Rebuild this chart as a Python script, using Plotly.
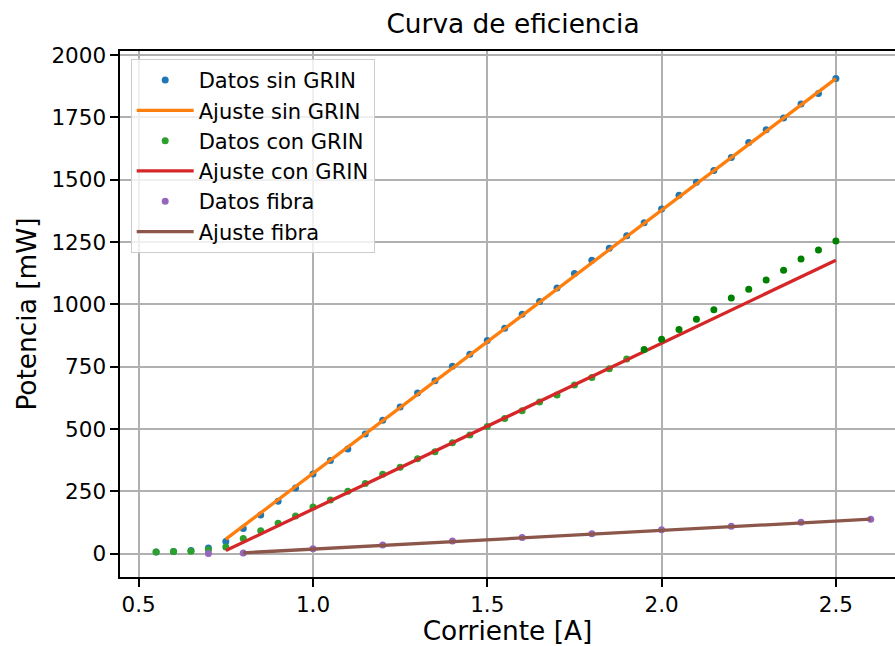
import plotly.graph_objects as go

# ---------------- data ----------------
x_sin = [0.55, 0.60, 0.65, 0.70, 0.75, 0.80, 0.85, 0.90, 0.95, 1.00,
         1.05, 1.10, 1.15, 1.20, 1.25, 1.30, 1.35, 1.40, 1.45, 1.50,
         1.55, 1.60, 1.65, 1.70, 1.75, 1.80, 1.85, 1.90, 1.95, 2.00,
         2.05, 2.10, 2.15, 2.20, 2.25, 2.30, 2.35, 2.40, 2.45, 2.50]
y_sin = [6, 8, 12, 22, 49, 101, 155, 210, 263, 319,
         374, 420, 480, 535, 588, 644, 694, 752, 800, 855,
         904, 960, 1012, 1066, 1124, 1177, 1225, 1275, 1328, 1383,
         1438, 1490, 1537, 1589, 1650, 1701, 1748, 1804, 1846, 1906]

x_fit_sin = [0.75, 2.50]
y_fit_sin = [58, 1906]

x_con = [0.55, 0.60, 0.65, 0.70, 0.75, 0.80, 0.85, 0.90, 0.95, 1.00,
         1.05, 1.10, 1.15, 1.20, 1.25, 1.30, 1.35, 1.40, 1.45, 1.50,
         1.55, 1.60, 1.65, 1.70, 1.75, 1.80, 1.85, 1.90]
y_con = [6, 8, 9, 15, 26, 61, 92, 122, 151, 187,
         215, 250, 281, 318, 346, 381, 409, 445, 476, 510,
         542, 573, 608, 636, 677, 707, 742, 781]

x_con_extra = [1.95, 2.00, 2.05, 2.10, 2.15, 2.20, 2.25, 2.30, 2.35, 2.40, 2.45, 2.50]
y_con_extra = [819, 860, 899, 940, 979, 1026, 1061, 1098, 1137, 1182, 1218, 1254]

x_fit_con = [0.75, 2.50]
y_fit_con = [12, 1177]

x_fib = [0.7, 0.8, 1.0, 1.2, 1.4, 1.6, 1.8, 2.0, 2.2, 2.4, 2.6]
y_fib = [0, 2, 19, 35, 51, 65, 80, 96, 110, 126, 138]

x_fit_fib = [0.8, 2.6]
y_fit_fib = [3, 138]

x_ticks = [0.5, 1.0, 1.5, 2.0, 2.5]
x_ticklabels = ["0.5", "1.0", "1.5", "2.0", "2.5"]
y_ticks = [0, 250, 500, 750, 1000, 1250, 1500, 1750, 2000]
y_ticklabels = ["0", "250", "500", "750", "1000", "1250", "1500", "1750", "2000"]

# ---------------- figure ----------------
FONT = "DejaVu Sans"
MS = 7
LW = 3.3

fig = go.Figure()
fig.add_trace(go.Scatter(x=x_sin, y=y_sin, mode="markers", name="Datos sin GRIN",
                         marker=dict(color="#1f77b4", size=MS)))
fig.add_trace(go.Scatter(x=x_fit_sin, y=y_fit_sin, mode="lines", name="Ajuste sin GRIN",
                         line=dict(color="#ff7f0e", width=LW)))
fig.add_trace(go.Scatter(x=x_con, y=y_con, mode="markers", name="Datos con GRIN",
                         marker=dict(color="#2ca02c", size=MS)))
fig.add_trace(go.Scatter(x=x_fit_con, y=y_fit_con, mode="lines", name="Ajuste con GRIN",
                         line=dict(color="#d62728", width=LW)))
fig.add_trace(go.Scatter(x=x_fib, y=y_fib, mode="markers", name="Datos fibra",
                         marker=dict(color="#9467bd", size=MS)))
fig.add_trace(go.Scatter(x=x_fit_fib, y=y_fit_fib, mode="lines", name="Ajuste fibra",
                         line=dict(color="#8c564b", width=LW)))
fig.add_trace(go.Scatter(x=x_con_extra, y=y_con_extra, mode="markers", showlegend=False,
                         marker=dict(color="#008000", size=MS)))

axis_common = dict(
    showgrid=True, gridcolor="#b0b0b0", gridwidth=1.7,
    zeroline=False, showline=True, linecolor="black", linewidth=1.8,
    ticks="outside", ticklen=7.7, tickwidth=1.8, tickcolor="black",
    tickfont=dict(family=FONT, size=21.5, color="black"),
)

fig.update_layout(
    width=895, height=646,
    margin=dict(l=120, r=0, t=51, b=69),
    paper_bgcolor="white", plot_bgcolor="white",
    font=dict(family=FONT, color="black"),
    title=dict(text="Curva de eficiencia", x=513 / 895, xref="container", xanchor="center",
               y=1 - 24 / 646, yref="container", yanchor="middle",
               font=dict(family=FONT, size=26.4, color="black")),
    xaxis=dict(range=[0.4464, 2.6696], tickvals=x_ticks, ticktext=x_ticklabels,
               mirror=True,
               title=dict(text="Corriente [A]", font=dict(family=FONT, size=26.4, color="black"),
                          standoff=8),
               **axis_common),
    yaxis=dict(range=[-93.9, 2016.8], tickvals=y_ticks, ticktext=y_ticklabels,
               title=dict(text="Potencia [mW]", font=dict(family=FONT, size=26.4, color="black"),
                          standoff=7),
               **axis_common),
    legend=dict(x=0.0138, y=0.985, xanchor="left", yanchor="top",
                bgcolor="rgba(255,255,255,0.8)", bordercolor="#cccccc", borderwidth=1,
                font=dict(family=FONT, size=21.0, color="black"),
                itemwidth=57),
    showlegend=True,
)

fig.write_html("out.html")
